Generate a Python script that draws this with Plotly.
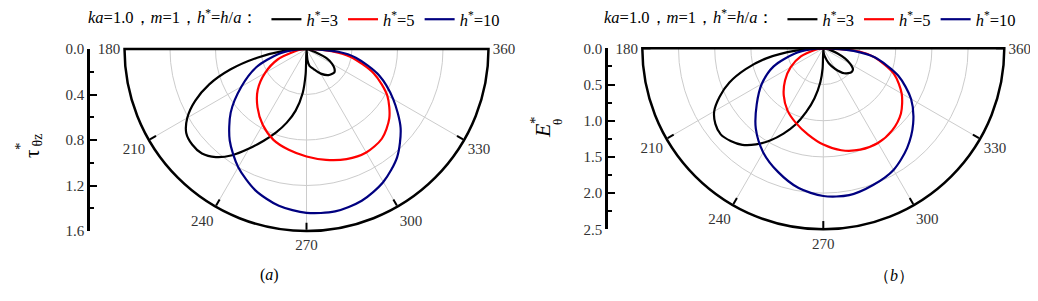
import plotly.graph_objects as go

# ---------------- data ----------------
# (a) tau*_theta_z
theta_a_h3 = [180, 185, 190, 195, 200, 205, 210, 215, 220, 225, 230, 235, 240, 245, 250, 255, 260, 265, 268, 270,
              275, 280, 290, 300, 310, 320, 325, 330, 335, 340, 345, 350, 360]
r_a_h3 = [0, 0.21, 0.44, 0.69, 0.91, 1.08, 1.21, 1.29, 1.31, 1.30, 1.24, 1.14, 1.01, 0.89, 0.78, 0.67, 0.55, 0.39, 0.22, 0,
          0.10, 0.15, 0.19, 0.25, 0.30, 0.32, 0.30, 0.26, 0.20, 0.08, 0.03, 0.01, 0]
theta_a_h5 = [180, 185, 190, 200, 210, 220, 230, 240, 250, 260, 270, 280, 290, 300, 310, 320, 330, 340, 350, 355, 360]
r_a_h5 = [0, 0.05, 0.09, 0.27, 0.42, 0.56, 0.67, 0.77, 0.85, 0.90, 0.945, 0.99, 1.03, 1.05, 1.03, 0.95, 0.82, 0.63, 0.39, 0.22, 0]
theta_a_h10 = [180, 185, 190, 200, 210, 220, 230, 240, 250, 260, 270, 280, 290, 300, 310, 320, 330, 340, 350, 355, 360]
r_a_h10 = [0, 0.12, 0.25, 0.47, 0.66, 0.87, 1.05, 1.20, 1.32, 1.40, 1.44, 1.45, 1.42, 1.35, 1.24, 1.08, 0.88, 0.68, 0.44, 0.28, 0]

# (b) E*_theta
theta_b_h3 = [180, 185, 190, 195, 200, 205, 210, 215, 220, 225, 230, 235, 240, 245, 250, 255, 260, 265, 268, 270,
              275, 280, 290, 300, 310, 320, 325, 330, 335, 340, 345, 350, 360]
r_b_h3 = [0, 0.38, 0.80, 1.11, 1.38, 1.58, 1.74, 1.82, 1.85, 1.81, 1.74, 1.62, 1.47, 1.30, 1.12, 0.91, 0.70, 0.47, 0.28, 0,
          0.07, 0.11, 0.22, 0.33, 0.45, 0.51, 0.50, 0.43, 0.33, 0.21, 0.11, 0.05, 0]
theta_b_h5 = [180, 185, 190, 200, 210, 220, 230, 240, 250, 260, 270, 280, 290, 300, 310, 320, 330, 340, 350, 355, 360]
r_b_h5 = [0, 0.05, 0.11, 0.33, 0.52, 0.69, 0.85, 0.99, 1.10, 1.21, 1.33, 1.43, 1.49, 1.51, 1.48, 1.40, 1.25, 1.04, 0.72, 0.50, 0]
theta_b_h10 = [180, 185, 190, 200, 210, 220, 230, 240, 250, 260, 270, 280, 290, 300, 310, 320, 330, 340, 350, 355, 360]
r_b_h10 = [0, 0.18, 0.39, 0.73, 0.98, 1.20, 1.45, 1.66, 1.82, 1.96, 2.04, 2.06, 2.01, 1.94, 1.80, 1.62, 1.40, 1.10, 0.72, 0.42, 0]

series_names = ["<i>h</i><sup>*</sup>=3", "<i>h</i><sup>*</sup>=5", "<i>h</i><sup>*</sup>=10"]
series_colors = ["#000000", "#ff0000", "#000080"]

ang_major = [180, 210, 240, 270, 300, 330, 360]
ang_major_text = ["180", "210", "240", "270", "300", "330", "360"]
ang_minor = [195, 225, 255, 285, 315, 345]

rad_a_major = [0.4, 0.8, 1.2]
rad_a_minor = [0.2, 0.6, 1.0, 1.4]
rad_b_major = [0.5, 1.0, 1.5, 2.0]
rad_b_minor = [0.25, 0.75, 1.25, 1.75, 2.25]

yticks_a = [0, 0.4, 0.8, 1.2, 1.6]
yticks_b = [0, 0.5, 1.0, 1.5, 2.0, 2.5]

# ---------------- geometry ----------------
# the page body has an 8 px margin, so the figure is drawn 8 px in and made 8 px smaller
OFF = 8
W, H = 1038 - OFF, 301 - OFF
SERIF = "Liberation Serif, Times New Roman, serif"


def px_x(v):
    return (v - OFF) / W


def px_y(v):
    return 1 - (v - OFF) / H


ca, ta, Ra = 306.5, 49.0, 182.0
cb, tb, Rb = 823.3, 48.3, 181.0
dom_a_x = [px_x(ca - Ra), px_x(ca + Ra)]
dom_a_y = [px_y(ta + Ra), px_y(ta)]
dom_b_x = [px_x(cb - Rb), px_x(cb + Rb)]
dom_b_y = [px_y(tb + Rb), px_y(tb)]

fig = go.Figure()

panels = [
    ("polar2", "legend", [(theta_a_h3, r_a_h3), (theta_a_h5, r_a_h5), (theta_a_h10, r_a_h10)]),
    ("polar4", "legend2", [(theta_b_h3, r_b_h3), (theta_b_h5, r_b_h5), (theta_b_h10, r_b_h10)]),
]
for sp, lg, data in panels:
    for (th, rr), name, col in zip(data, series_names, series_colors):
        fig.add_trace(go.Scatterpolar(theta=th, r=rr, mode="lines", name=name, subplot=sp, legend=lg,
                                      line=dict(color=col, width=2.2, shape="spline", smoothing=0.8),
                                      hoverinfo="skip"))

# invisible traces so that the vertical cartesian axes are drawn
fig.add_trace(go.Scatter(x=[0], y=[0], xaxis="x", yaxis="y", mode="markers", marker=dict(opacity=0),
                         showlegend=False, hoverinfo="skip"))
fig.add_trace(go.Scatter(x=[0], y=[0], xaxis="x2", yaxis="y2", mode="markers", marker=dict(opacity=0),
                         showlegend=False, hoverinfo="skip"))

GRID = "#cccccc"
GRID_MINOR = "#d4d4d4"


def minor_polar(dx, dy, rmax, rvals):
    return dict(
        domain=dict(x=dx, y=dy), sector=[180, 360], bgcolor="rgba(0,0,0,0)",
        radialaxis=dict(range=[0, rmax], tickvals=rvals, showline=False, showticklabels=False, ticks="",
                        gridcolor=GRID_MINOR, gridwidth=1, griddash="dot"),
        angularaxis=dict(tickmode="array", tickvals=ang_minor, showticklabels=False, showline=False,
                         ticks="inside", ticklen=4, tickwidth=1.5, tickcolor="black",
                         gridcolor=GRID_MINOR, gridwidth=1, griddash="dot"),
    )


def major_polar(dx, dy, rmax, rvals):
    return dict(
        domain=dict(x=dx, y=dy), sector=[180, 360], bgcolor="rgba(0,0,0,0)",
        radialaxis=dict(range=[0, rmax], tickvals=rvals, showline=False, showticklabels=False, ticks="",
                        gridcolor=GRID, gridwidth=1),
        angularaxis=dict(tickmode="array", tickvals=ang_major, ticktext=ang_major_text,
                         showline=True, linecolor="black", linewidth=2.5,
                         ticks="inside", ticklen=7, tickwidth=2, tickcolor="black",
                         gridcolor=GRID, gridwidth=1,
                         tickfont=dict(family=SERIF, size=15, color="#333")),
    )


def yaxis_cfg(dom, rmax, pos, ticks, minor_dt):
    return dict(domain=dom, range=[rmax, 0], anchor="free", position=pos, side="left",
                showline=True, linecolor="black", linewidth=2.5, ticks="inside", ticklen=7, tickwidth=2,
                tickcolor="black", tickmode="array", tickvals=ticks, tickformat=".1f",
                minor=dict(ticks="inside", ticklen=4, tickwidth=2, tickcolor="black", dtick=minor_dt,
                           showgrid=False),
                showgrid=False, zeroline=False, tickfont=dict(family=SERIF, size=15, color="#333"))


legend_title_text = "<i>ka</i>=1.0，<i>m</i>=1，<i>h</i><sup>*</sup>=<i>h</i>/<i>a</i>："


def legend_cfg(x):
    return dict(orientation="h", x=x, xanchor="left", y=px_y(2), yanchor="top",
                title=dict(text=legend_title_text, side="left", font=dict(family=SERIF, size=16.5)),
                font=dict(family=SERIF, size=16.5), bgcolor="rgba(0,0,0,0)", itemwidth=30,
                tracegroupgap=0, borderwidth=0)


def rot(text, x, y, size):
    return dict(text=text, x=px_x(x), y=px_y(y), xref="paper", yref="paper", showarrow=False,
                textangle=-90, font=dict(family=SERIF, size=size, color="black"))


fig.update_layout(
    width=W, height=H, margin=dict(l=0, r=0, t=0, b=0, pad=0, autoexpand=False),
    paper_bgcolor="white", plot_bgcolor="rgba(0,0,0,0)",
    font=dict(family=SERIF, size=15, color="black"),
    polar=minor_polar(dom_a_x, dom_a_y, 1.6, rad_a_minor),
    polar2=major_polar(dom_a_x, dom_a_y, 1.6, rad_a_major),
    polar3=minor_polar(dom_b_x, dom_b_y, 2.5, rad_b_minor),
    polar4=major_polar(dom_b_x, dom_b_y, 2.5, rad_b_major),
    xaxis=dict(domain=[0.0, 0.01], visible=False, anchor="y"),
    xaxis2=dict(domain=[0.5, 0.51], visible=False, anchor="y2"),
    yaxis=yaxis_cfg(dom_a_y, 1.6, px_x(88), yticks_a, 0.2),
    yaxis2=yaxis_cfg(dom_b_y, 2.5, px_x(606), yticks_b, 0.25),
    legend=legend_cfg(px_x(86)),
    legend2=legend_cfg(px_x(602)),
    showlegend=True,
    annotations=[
        rot("τ", 18, 154, 21),
        rot("*", 10, 146, 15),
        rot("θz", 27, 140, 14),
        rot("<i>E</i>", 542, 131, 22),
        rot("*", 535, 120, 15),
        rot("θ", 557, 122, 13),
        dict(text="(<i>a</i>)", x=px_x(258), y=px_y(286), xref="paper", yref="paper",
             showarrow=False, font=dict(family=SERIF, size=16)),
        dict(text="（<i>b</i>）", x=px_x(916), y=px_y(286), xref="paper", yref="paper",
             showarrow=False, font=dict(family=SERIF, size=16)),
    ],
)

fig.write_html("out.html")
